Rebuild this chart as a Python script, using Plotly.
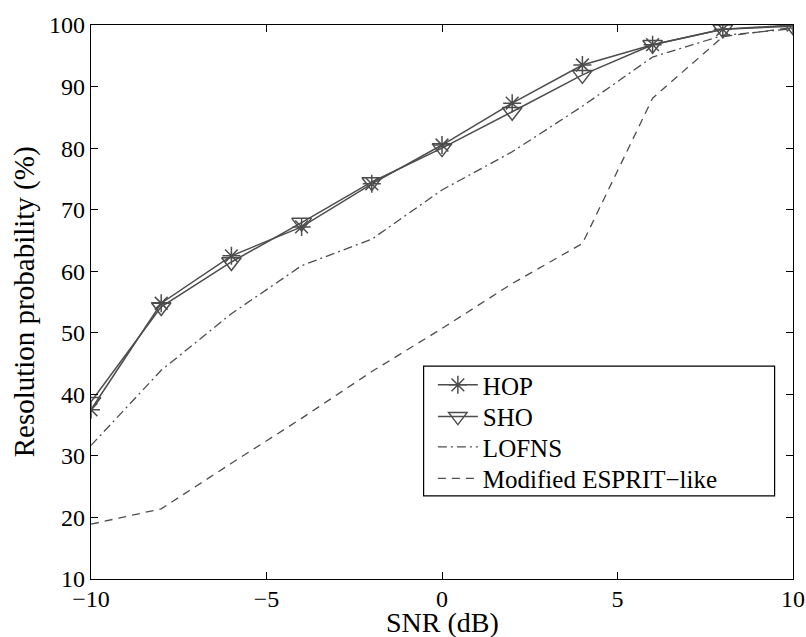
import plotly.graph_objects as go

snr = [-10, -8, -6, -4, -2, 0, 2, 4, 6, 8, 10]
hop = [37.5, 54.8, 62.5, 67.2, 74.2, 80.5, 87.3, 93.5, 96.8, 99.3, 100.0]
sho = [38.8, 54.2, 61.5, 67.9, 74.5, 80.0, 85.9, 91.9, 96.8, 99.3, 99.8]
lofns = [31.7, 43.9, 53.1, 60.9, 65.2, 73.2, 79.4, 86.8, 94.8, 98.3, 99.4]
esprit = [18.9, 21.4, 28.8, 36.1, 43.7, 50.7, 58.0, 64.5, 88.1, 98.1, 99.6]

names = ["HOP", "SHO", "LOFNS", "Modified ESPRIT\u2212like"]
x_ticks = [-10, -5, 0, 5, 10]
y_ticks = [10, 20, 30, 40, 50, 60, 70, 80, 90, 100]
x_title = "SNR (dB)"
y_title = "Resolution probability (%)"

col = "#4d4d4d"
font_family = "Liberation Serif, Times New Roman, serif"

fig = go.Figure()
fig.add_trace(go.Scatter(x=snr, y=hop, name=names[0], mode="lines+markers", legend="legend",
                         line=dict(color=col, width=1.5),
                         marker=dict(symbol="asterisk-open", size=15,
                                     line=dict(color=col, width=1.5))))
fig.add_trace(go.Scatter(x=snr, y=sho, name=names[1], mode="lines+markers", legend="legend2",
                         line=dict(color=col, width=1.5),
                         marker=dict(symbol="triangle-down-open", size=17,
                                     color=col, line=dict(color=col, width=1.5))))
fig.add_trace(go.Scatter(x=snr, y=lofns, name=names[2], mode="lines", legend="legend3",
                         line=dict(color=col, width=1.3, dash="9px,4px,2px,4px")))
fig.add_trace(go.Scatter(x=snr, y=esprit, name=names[3], mode="lines", legend="legend4",
                         line=dict(color=col, width=1.3, dash="8px,6px")))

axis_common = dict(showgrid=False, zeroline=False, showline=True, linecolor="black",
                   linewidth=1.3, mirror="ticks", ticks="inside", ticklen=7,
                   tickcolor="black", tickwidth=1, automargin=False,
                   tickfont=dict(family=font_family, size=24, color="black"))

leg_font = dict(family=font_family, size=25, color="black")
leg_x = 0.487
leg_ys = [0.350, 0.2927, 0.238, 0.1813]


def leg(y):
    return dict(x=leg_x, y=y, xanchor="left", yanchor="middle",
                bgcolor="rgba(0,0,0,0)", borderwidth=0,
                font=leg_font, itemwidth=40)


fig.update_layout(
    width=806, height=637,
    margin=dict(l=91, r=13, t=25, b=58, autoexpand=False),
    paper_bgcolor="white", plot_bgcolor="white",
    font=dict(family=font_family, color="black"),
    xaxis=dict(range=[-10, 10], tickvals=x_ticks,
               ticktext=[str(v).replace("-", "\u2212") for v in x_ticks],
               ticklabelstandoff=-2,
               **axis_common),
    yaxis=dict(range=[10, 100], tickvals=y_ticks,
               **axis_common),
    legend=leg(leg_ys[0]),
    legend2=leg(leg_ys[1]),
    legend3=leg(leg_ys[2]),
    legend4=leg(leg_ys[3]),
    showlegend=True,
    shapes=[dict(type="rect", xref="paper", yref="paper",
                 x0=0.4738, x1=0.9738, y0=0.150, y1=0.3843,
                 line=dict(color="black", width=1.2), fillcolor="white", layer="above")],
    annotations=[
        dict(text=x_title, xref="paper", yref="paper", x=0.5, y=-0.078,
             xanchor="center", yanchor="middle", showarrow=False,
             font=dict(family=font_family, size=28, color="black")),
        dict(text=y_title, xref="paper", yref="paper", x=-0.095, y=0.5,
             xanchor="center", yanchor="middle", showarrow=False, textangle=-90,
             font=dict(family=font_family, size=29, color="black")),
    ],
)

fig.write_html("out.html")
